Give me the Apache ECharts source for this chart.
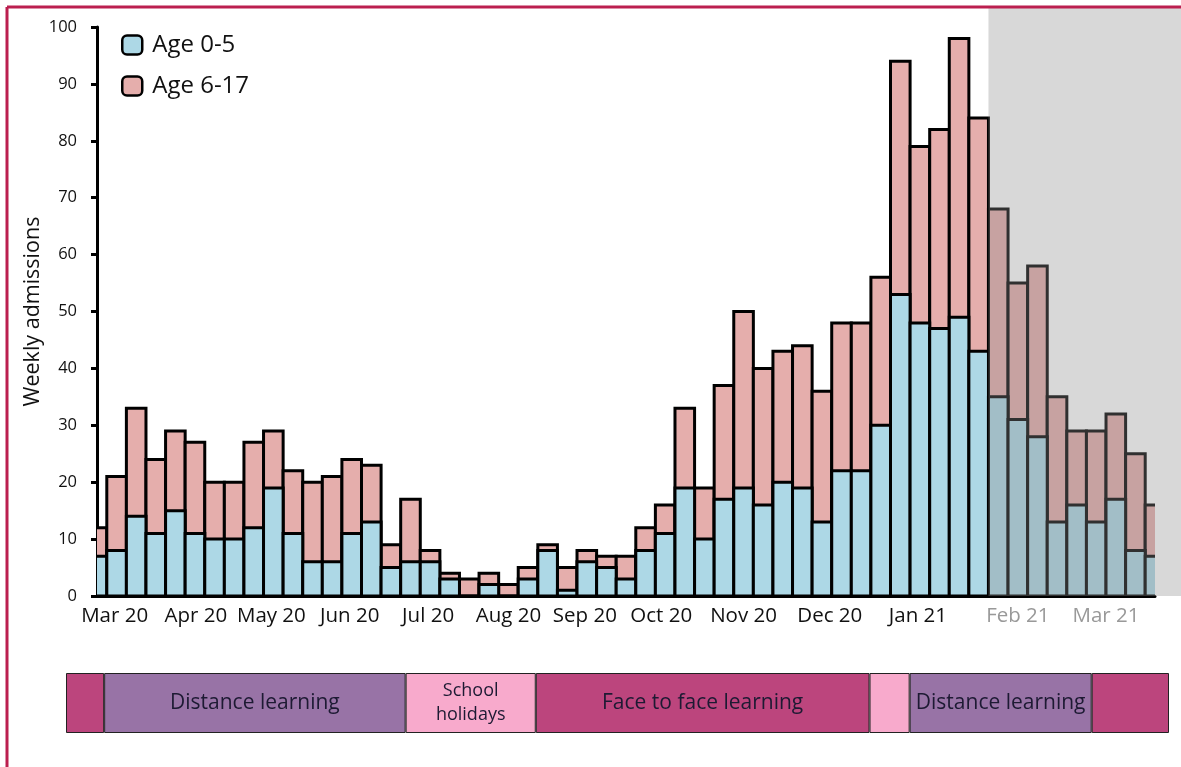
<!DOCTYPE html>
<html>
<head>
<meta charset="utf-8">
<title>Weekly admissions</title>
<script src="https://cdn.jsdelivr.net/npm/echarts@6/dist/echarts.min.js"></script>
<style>
  html, body { margin: 0; padding: 0; background: #fff; }
  #chart { width: 1181px; height: 767px; }
</style>
</head>
<body>
<div id="chart"></div>
<script>
// weekly paediatric admissions, Mar 2020 - Mar 2021 (one value per week)
const age0to5 = [7, 8, 14, 11, 15, 11, 10, 10, 12, 19, 11, 6, 6, 11, 13, 5, 6, 6, 3, 0,
  2, 0, 3, 8, 1, 6, 5, 3, 8, 11, 19, 10, 17, 19, 16, 20, 19, 13, 22, 22,
  30, 53, 48, 47, 49, 43, 35, 31, 28, 13, 16, 13, 17, 8, 7];
const age6to17 = [5, 13, 19, 13, 14, 16, 10, 10, 15, 10, 11, 14, 15, 13, 10, 4, 11, 2, 1, 3,
  2, 2, 2, 1, 4, 2, 2, 4, 4, 5, 14, 9, 20, 31, 24, 23, 25, 23, 26, 26,
  26, 41, 31, 35, 49, 41, 33, 24, 30, 22, 13, 16, 15, 17, 9];

// month labels and where they sit on the week axis
const monthLabels = ['Mar 20', 'Apr 20', 'May 20', 'Jun 20', 'Jul 20', 'Aug 20', 'Sep 20',
  'Oct 20', 'Nov 20', 'Dec 20', 'Jan 21', 'Feb 21', 'Mar 21'];
const monthPos = [0.9, 5.05, 8.9, 12.9, 16.9, 21, 24.9, 28.8, 33, 37.4, 41.9, 47, 51.5];
const greyFrom = 45.5; // weeks after this are shaded

// school periods shown under the chart (length in weeks)
const periodNames = ['', 'Distance learning', 'School\nholidays', 'Face to face learning', '', 'Distance learning', ''];
const periodWeeks = [1.95, 15.4, 6.65, 17.05, 2.05, 9.3, 3.95];
const periodColors = ['#bc457d', '#9873a6', '#f8aacc', '#bc457d', '#f8aacc', '#9873a6', '#bc457d'];

const FONT = '"Open Sans", sans-serif';
const W = 1181;
const nWeeks = age0to5.length;

const chart = echarts.init(document.getElementById('chart'));

// stacked look: the total bar is drawn first, the 0-5 bar sits on top of it.
// custom series so the first and last weeks get clipped at the axis ends
const totals = age0to5.map((v, i) => v + age6to17[i]);

const weekBars = (name, vals, color, z) => ({
  name: name,
  type: 'custom',
  z: z,
  clip: true,
  encode: { x: 0, y: 1 },
  itemStyle: { color: color },
  data: vals.map((v, i) => [i, v]),
  renderItem: (params, api) => {
    const x = api.value(0);
    const lo = api.coord([x - 0.5, 0]);
    const hi = api.coord([x + 0.5, api.value(1)]);
    return {
      type: 'rect',
      shape: { x: lo[0], y: hi[1], width: hi[0] - lo[0], height: lo[1] - hi[1] },
      style: { fill: color, stroke: '#000', lineWidth: 3 }
    };
  }
});

const periodSeries = periodNames.map((n, i) => ({
  name: 'p' + i,
  type: 'bar',
  stack: 'tl',
  xAxisIndex: 1,
  yAxisIndex: 1,
  barWidth: '100%',
  data: [periodWeeks[i]],
  itemStyle: { color: periodColors[i], borderColor: '#222', borderWidth: 1 },
  label: {
    show: n !== '',
    position: 'inside',
    formatter: n,
    fontFamily: FONT,
    fontSize: n.indexOf('\n') >= 0 ? 18 : 21,
    lineHeight: 24,
    color: '#1d1a33'
  },
  emphasis: { disabled: true }
}));

const options = {
  animation: false,
  textStyle: { fontFamily: FONT },
  legend: {
    data: ['Age 0-5', 'Age 6-17'],
    orient: 'vertical',
    left: 116,
    top: 28,
    itemWidth: 20,
    itemHeight: 19,
    itemGap: 17,
    itemStyle: { borderColor: '#000', borderWidth: 2.5 },
    icon: 'roundRect',
    textStyle: { fontSize: 24, color: '#111', fontFamily: FONT, padding: [0, 0, 0, 5] }
  },
  grid: [
    { left: 97, right: 26, top: 27, bottom: 171 },
    { left: 66, right: 12, top: 673, height: 60 }
  ],
  xAxis: [
    {
      type: 'value',
      min: 0,
      max: nWeeks - 1,
      axisLine: { show: true, lineStyle: { color: '#000', width: 3 } },
      axisTick: { show: false },
      splitLine: { show: false },
      axisLabel: {
        customValues: monthPos,
        fontSize: 20.5,
        margin: 10,
        color: '#111',
        formatter: (v) => {
          const k = monthPos.indexOf(v);
          return k >= 11 ? '{g|' + monthLabels[k] + '}' : monthLabels[k];
        },
        rich: { g: { color: '#999', fontSize: 20.5, fontFamily: FONT } }
      }
    },
    {
      type: 'value',
      gridIndex: 1,
      min: 0,
      max: periodWeeks.reduce((a, b) => a + b, 0),
      show: false
    }
  ],
  yAxis: [
    {
      type: 'value',
      min: 0,
      max: 100,
      interval: 10,
      name: 'Weekly admissions',
      nameLocation: 'middle',
      nameRotate: 90,
      nameGap: 53,
      nameMoveOverlap: false,
      nameTextStyle: { fontSize: 21.5, color: '#111', fontFamily: FONT },
      axisLine: { show: true, lineStyle: { color: '#000', width: 3 } },
      axisTick: { show: true, length: 6, lineStyle: { color: '#000', width: 3 } },
      splitLine: { show: false },
      axisLabel: { fontSize: 16.5, color: '#111', margin: 20 }
    },
    {
      type: 'category',
      gridIndex: 1,
      data: ['period'],
      show: false
    }
  ],
  series: [
    weekBars('Age 6-17', totals, '#e5aeac', 2),
    weekBars('Age 0-5', age0to5, '#add8e6', 3)
  ].concat(periodSeries)
};

chart.setOption(options);

// grey shading over the last weeks and the red frame of the figure
const xg = chart.convertToPixel({ xAxisIndex: 0 }, greyFrom);
const yg = chart.convertToPixel({ yAxisIndex: 0 }, 0);
chart.setOption({
  graphic: [
    {
      type: 'rect', silent: true, z: 50,
      shape: { x: xg, y: 8, width: W - xg, height: yg - 8 },
      style: { fill: 'rgba(140,140,140,0.34)' }
    },
    {
      type: 'line', silent: true, z: 60,
      shape: { x1: 7, y1: 7, x2: W, y2: 7 },
      style: { stroke: '#bb1f4f', lineWidth: 3 }
    },
    {
      type: 'line', silent: true, z: 60,
      shape: { x1: 7, y1: 7, x2: 7, y2: 767 },
      style: { stroke: '#bb1f4f', lineWidth: 3 }
    }
  ]
});

window.addEventListener('resize', () => {
  chart.resize();
});
</script>
</body>
</html>
